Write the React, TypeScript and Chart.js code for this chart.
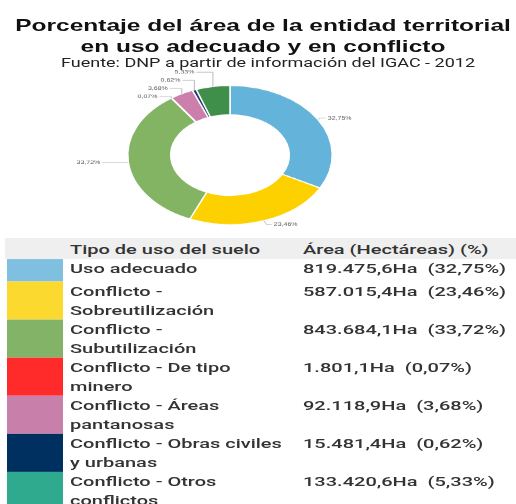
import React, { useEffect, useRef } from "react";
import { Chart, registerables } from "chart.js";
Chart.register(...registerables);

const titleLines = [
  "Porcentaje del área de la entidad territorial",
  "en uso adecuado y en conflicto",
];
const subtitle = "Fuente: DNP a partir de información del IGAC - 2012";
const headerLabels = ["Tipo de uso del suelo", "Área (Hectáreas) (%)"];
const categories = [
  "Uso adecuado",
  "Conflicto - Sobreutilización",
  "Conflicto - Subutilización",
  "Conflicto - De tipo minero",
  "Conflicto - Áreas pantanosas",
  "Conflicto - Obras civiles y urbanas",
  "Conflicto - Otros conflictos",
];
const areasHa = [819475.6, 587015.4, 843684.1, 1801.1, 92118.9, 15481.4, 133420.6];
const percents = [32.75, 23.46, 33.72, 0.07, 3.68, 0.62, 5.33];
const sliceColors = ["#63b3da", "#fdd100", "#83b464", "#ff2a2a", "#cc7fab", "#1f3a70", "#3f8e4a"];
const swatchColors = ["#7fbfdf", "#fbd92f", "#82b366", "#ff2a2a", "#c880aa", "#00305f", "#2faa8f"];

const SY = 0.68;

const fmtPct = (p: number) => p.toFixed(2).replace(".", ",") + "%";
const fmtHa = (v: number) => {
  const [i, d] = v.toFixed(1).split(".");
  return i.replace(/\B(?=(\d{3})+(?!\d))/g, ".") + "," + d + "Ha";
};

const labelPlugin = {
  id: "sliceLabels",
  afterDatasetsDraw(chart: any) {
    const meta = chart.getDatasetMeta(0);
    const ctx = chart.ctx;
    const items = meta.data.map((arc: any, i: number) => {
      const mid = (arc.startAngle + arc.endAngle) / 2;
      const r = arc.outerRadius;
      return {
        i,
        cx: arc.x,
        cy: arc.y,
        ax: arc.x + Math.cos(mid) * r,
        ay: arc.y + Math.sin(mid) * r,
        right: Math.cos(mid) >= 0,
      };
    });
    ctx.save();
    ctx.font = "7px 'Liberation Sans', Arial, sans-serif";
    ctx.fillStyle = "#555";
    ctx.strokeStyle = "#aaa";
    ctx.lineWidth = 0.8;
    ctx.textBaseline = "middle";
    items.filter((it: any) => it.right).forEach((it: any) => {
      const text = fmtPct(percents[it.i]);
      const below = it.ay > it.cy;
      const ly = below ? it.ay + 6 : it.ay - 2;
      const lx = it.ax + 10;
      ctx.beginPath();
      ctx.moveTo(it.ax, it.ay);
      ctx.lineTo(it.ax + 3, ly);
      ctx.lineTo(lx - 2, ly);
      ctx.stroke();
      ctx.textAlign = "left";
      ctx.fillText(text, lx, ly);
    });
    const left = items.filter((it: any) => !it.right);
    left.filter((it: any) => it.ay >= it.cy).forEach((it: any) => {
      const text = fmtPct(percents[it.i]);
      const rx = it.ax - 28;
      ctx.beginPath();
      ctx.moveTo(it.ax, it.ay);
      ctx.lineTo(rx + 2, it.ay);
      ctx.stroke();
      ctx.textAlign = "right";
      ctx.fillText(text, rx, it.ay);
    });
    const upper = left.filter((it: any) => it.ay < it.cy).sort((a: any, b: any) => b.ay - a.ay);
    let prevY = Infinity;
    let prevR = -Infinity;
    upper.forEach((it: any, k: number) => {
      const text = fmtPct(percents[it.i]);
      const ly = Math.min(it.ay - 2, prevY - 12);
      const rx = k === 0 ? it.ax - 14 : Math.min(it.ax - 14, prevR + 14);
      prevY = ly;
      prevR = rx;
      ctx.beginPath();
      ctx.moveTo(rx + 2, ly);
      ctx.lineTo(it.ax, ly);
      ctx.lineTo(it.ax, it.ay);
      ctx.stroke();
      ctx.textAlign = "right";
      ctx.fillText(text, rx, ly);
    });
    ctx.restore();
  },
};

function Doughnut() {
  const ref = useRef<HTMLCanvasElement | null>(null);
  useEffect(() => {
    if (!ref.current) return;
    const chart = new Chart(ref.current, {
      type: "doughnut",
      data: {
        labels: categories,
        datasets: [
          {
            data: percents,
            backgroundColor: sliceColors,
            borderColor: "#ffffff",
            borderWidth: 1.5,
          },
        ],
      },
      options: {
        animation: false,
        responsive: true,
        maintainAspectRatio: false,
        cutout: "58%",
        layout: { padding: 30 },
        plugins: {
          legend: { display: false },
          tooltip: { enabled: false },
          title: { display: false },
        },
      },
      plugins: [labelPlugin],
    });
    return () => chart.destroy();
  }, []);
  return <canvas ref={ref} />;
}

export default function App() {
  useEffect(() => {
    document.body.style.margin = "0";
  }, []);
  const tableFont = "Roboto, 'Liberation Sans', Arial, sans-serif";
  const rowHeights = [33, 56, 56, 56, 56, 56, 56];
  return (
    <div style={{ position: "relative", width: 516, height: 504, overflow: "hidden", background: "#fff" }}>
      <div
        style={{
          position: "absolute",
          left: 0,
          top: 0,
          width: 516,
          height: 741,
          transform: `scaleY(${SY})`,
          transformOrigin: "0 0",
        }}
      >
        <div
          style={{
            position: "absolute",
            left: 5,
            top: 22,
            width: 516,
            textAlign: "center",
            fontFamily: "'Liberation Sans', Arial, sans-serif",
            fontWeight: 700,
            fontSize: 24.5,
            lineHeight: "31px",
            color: "#111",
            whiteSpace: "nowrap",
          }}
        >
          {titleLines.map((t) => (
            <div key={t}>{t}</div>
          ))}
        </div>
        <div
          style={{
            position: "absolute",
            left: 10,
            top: 81,
            width: 516,
            textAlign: "center",
            fontFamily: tableFont,
            fontSize: 18,
            lineHeight: "22px",
            color: "#222",
            whiteSpace: "nowrap",
          }}
        >
          {subtitle}
        </div>
        <div style={{ position: "absolute", left: 30, top: 95, width: 400, height: 266 }}>
          <Doughnut />
        </div>
        <div
          style={{
            position: "absolute",
            left: 5,
            top: 350,
            width: 511,
            fontFamily: tableFont,
            fontWeight: 500,
            fontSize: 20,
            lineHeight: "28px",
            color: "#333",
          }}
        >
          <div style={{ height: 31, background: "#efefef", position: "relative" }}>
            <div style={{ position: "absolute", left: 65, top: 2 }}>{headerLabels[0]}</div>
            <div style={{ position: "absolute", left: 298, top: 2 }}>{headerLabels[1]}</div>
          </div>
          {categories.map((c, i) => (
            <div key={c} style={{ height: rowHeights[i], position: "relative" }}>
              <div
                style={{
                  position: "absolute",
                  left: 2,
                  top: 0,
                  width: 56,
                  height: rowHeights[i],
                  background: swatchColors[i],
                }}
              />
              <div style={{ position: "absolute", left: 65, top: 0, width: 214 }}>{c}</div>
              <div style={{ position: "absolute", left: 298, top: 0, whiteSpace: "pre" }}>
                {fmtHa(areasHa[i]) + "  (" + fmtPct(percents[i]) + ")"}
              </div>
            </div>
          ))}
        </div>
      </div>
    </div>
  );
}
